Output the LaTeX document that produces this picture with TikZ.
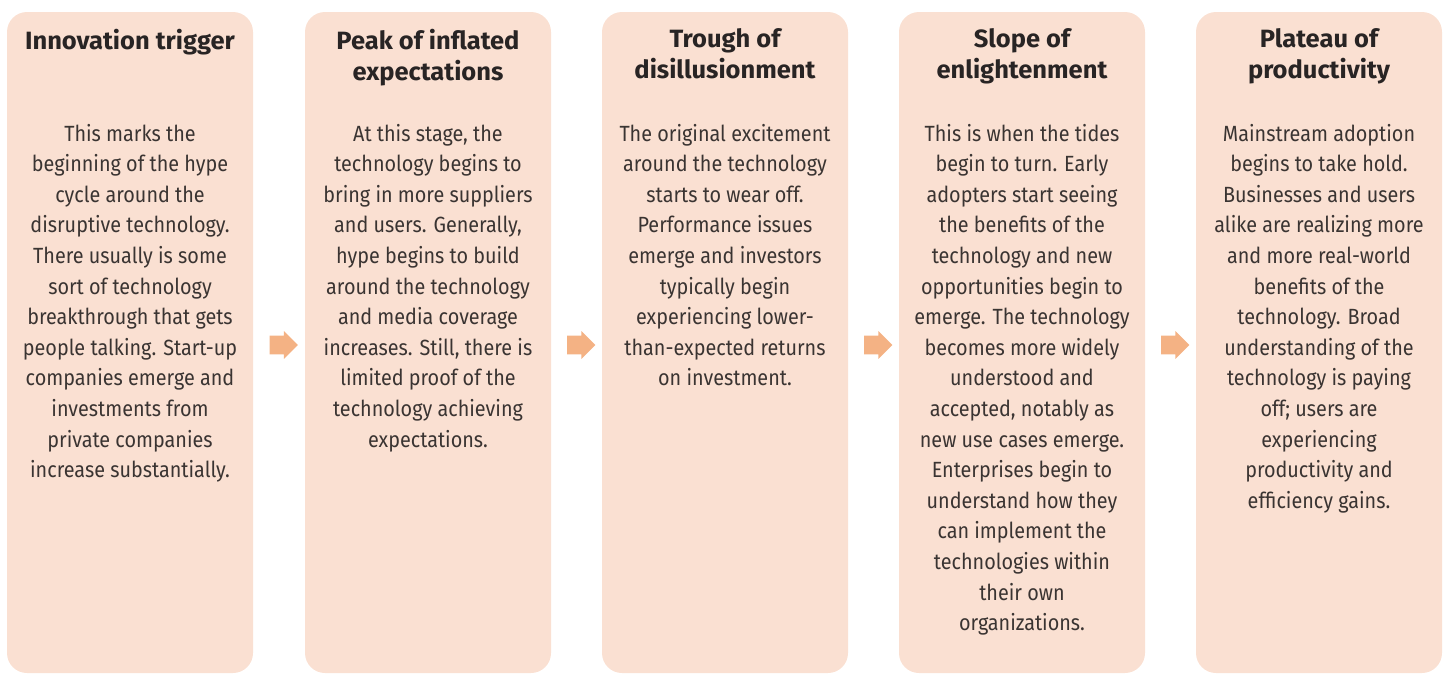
\documentclass[tikz,border=0pt]{standalone}
\usepackage{fontspec}
\usetikzlibrary{calc, positioning, shapes.arrows}
\newfontfamily\titlefont[FakeStretch=1.02]{Fira Sans}
\newfontfamily\bodyfont[FakeStretch=0.9]{Fira Sans}
\definecolor{stagefill}{RGB}{250,224,210}
\definecolor{stagearrow}{RGB}{244,178,132}
\definecolor{stageink}{RGB}{40,36,36}
\definecolor{bodyink}{RGB}{58,52,50}
\tikzset{
    stagebox/.style={fill=stagefill, rounded corners=10pt, minimum width=123pt, minimum height=330.5pt, inner sep=0pt},
    stagetitle/.style={text=stageink, align=center, inner sep=0pt, font=\titlefont\bfseries\fontsize{12.5}{15.5}\selectfont},
    stagetext/.style={text=bodyink, align=center, inner sep=0pt, font=\bodyfont\fontsize{11}{15.3}\selectfont},
    steparrow/.style={single arrow, fill=stagearrow, inner sep=4.5pt, single arrow head extend=2.25pt, single arrow head indent=0pt, minimum height=12.5pt}
}

\begin{document}
\begin{tikzpicture}[x=0.5pt, y=-0.5pt]
    \useasboundingbox (0,0) rectangle (1447,675);
    % stages
    \node[stagebox] (trigger) at (130,342.5) {};
    \node[stagebox] (peak) at (428,342.5) {};
    \node[stagebox] (trough) at (725,342.5) {};
    \node[stagebox] (slope) at (1022,342.5) {};
    \node[stagebox] (plateau) at (1319,342.5) {};
    % titles
    \node[stagetitle, below=8.5pt of trigger.north] (triggerT) {Innovation trigger};
    \node[stagetitle, below=8.5pt of peak.north] (peakT) {Peak of inflated\\expectations};
    \node[stagetitle, below=8.5pt of trough.north] (troughT) {Trough of\\disillusionment};
    \node[stagetitle, below=8.5pt of slope.north] (slopeT) {Slope of\\enlightenment};
    \node[stagetitle, below=8.5pt of plateau.north] (plateauT) {Plateau of\\productivity};
    % texts
    \node[stagetext, below=56pt of trigger.north] (triggerB) {This marks the\\beginning of the hype\\cycle around the\\disruptive technology.\\There usually is some\\sort of technology\\breakthrough that gets\\people talking. Start-up\\companies emerge and\\investments from\\private companies\\increase substantially.};
    \node[stagetext, below=56pt of peak.north] (peakB) {At this stage, the\\technology begins to\\bring in more suppliers\\and users. Generally,\\hype begins to build\\around the technology\\and media coverage\\increases. Still, there is\\limited proof of the\\technology achieving\\expectations.};
    \node[stagetext, below=56pt of trough.north] (troughB) {The original excitement\\around the technology\\starts to wear off.\\Performance issues\\emerge and investors\\typically begin\\experiencing lower-\\than-expected returns\\on investment.};
    \node[stagetext, below=56pt of slope.north] (slopeB) {This is when the tides\\begin to turn. Early\\adopters start seeing\\the benefits of the\\technology and new\\opportunities begin to\\emerge. The technology\\becomes more widely\\understood and\\accepted, notably as\\new use cases emerge.\\Enterprises begin to\\understand how they\\can implement the\\technologies within\\their own\\organizations.};
    \node[stagetext, below=56pt of plateau.north] (plateauB) {Mainstream adoption\\begins to take hold.\\Businesses and users\\alike are realizing more\\and more real-world\\benefits of the\\technology. Broad\\understanding of the\\technology is paying\\off; users are\\experiencing\\productivity and\\efficiency gains.};
    % arrows between stages
    \node[steparrow] (go1) at ($(trigger.east)!0.5!(peak.west)+(0,2.5)$) {};
    \node[steparrow] (go2) at ($(peak.east)!0.5!(trough.west)+(0,2.5)$) {};
    \node[steparrow] (go3) at ($(trough.east)!0.5!(slope.west)+(0,2.5)$) {};
    \node[steparrow] (go4) at ($(slope.east)!0.5!(plateau.west)+(0,2.5)$) {};
\end{tikzpicture}
\end{document}
